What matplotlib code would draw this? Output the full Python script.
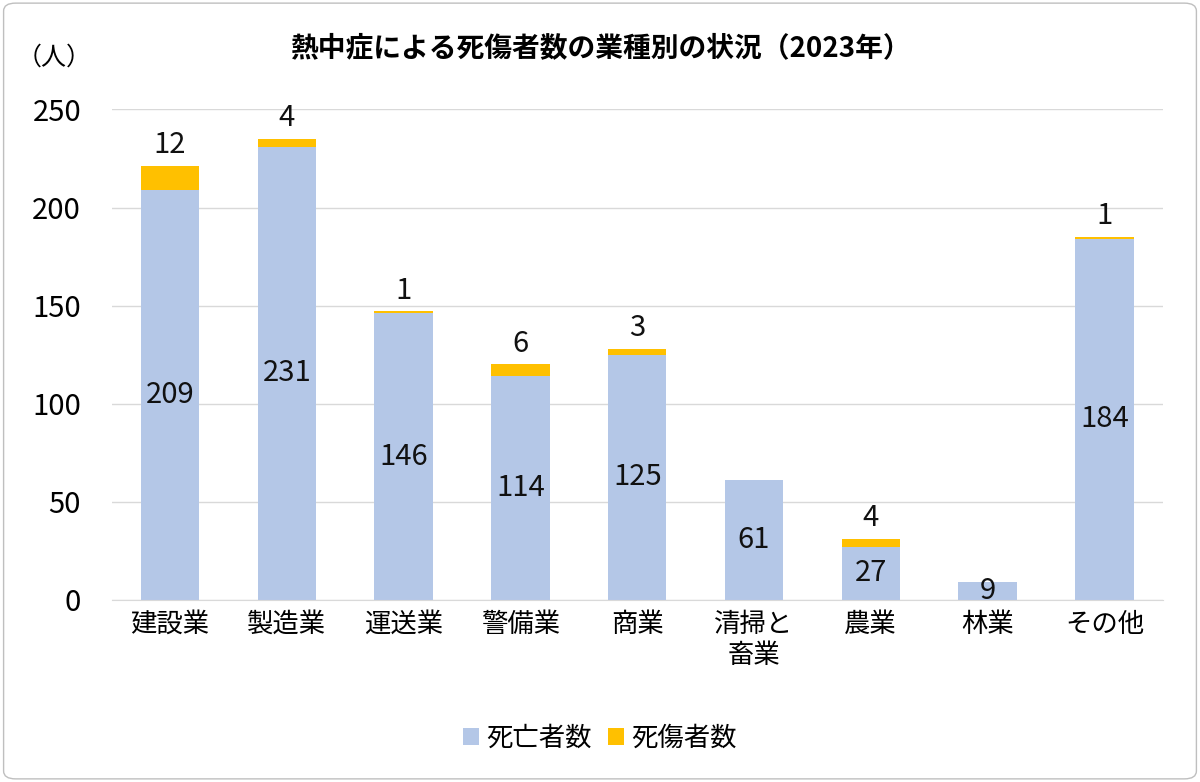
import matplotlib.pyplot as plt
import numpy as np
from matplotlib.patches import FancyBboxPatch

plt.rcParams['font.family'] = 'Noto Sans CJK JP'

categories = ['建設業', '製造業', '運送業', '警備業', '商業', '清掃と\n畜業', '農業', '林業', 'その他']
deaths = [209, 231, 146, 114, 125, 61, 27, 9, 184]
casualties = [12, 4, 1, 6, 3, 0, 4, 0, 1]

blue = '#b4c7e7'
yellow = '#ffc000'

fig = plt.figure(figsize=(12, 7.82), dpi=100)
ax = fig.add_axes([0.093, 0.233, 0.876, 0.627])

x = np.arange(len(categories))
ax.bar(x, deaths, width=0.5, color=blue, label='死亡者数', zorder=2)
ax.bar(x, casualties, width=0.5, bottom=deaths, color=yellow, label='死傷者数', zorder=2)

for i, (d, c) in enumerate(zip(deaths, casualties)):
    ax.text(i, d / 2, str(d), ha='center', va='center', fontsize=21, color='#111111', zorder=3)
    if c > 0:
        ax.text(i, d + c + 3, str(c), ha='center', va='bottom', fontsize=21, color='#111111', zorder=3)

ax.set_ylim(0, 250)
ax.set_xlim(-0.5, len(categories) - 0.5)
ax.set_yticks(range(0, 251, 50))
ax.set_xticks(x)
ax.set_xticklabels(categories, fontsize=19, linespacing=1.2)
ax.tick_params(axis='y', labelsize=21, length=0, pad=22)
ax.tick_params(axis='x', length=0, pad=8)
ax.grid(axis='y', color='#d9d9d9', linewidth=1, zorder=0)
for s in ['top', 'right', 'left']:
    ax.spines[s].set_visible(False)
ax.spines['bottom'].set_color('#d9d9d9')

fig.text(0.5, 0.938, '熱中症による死傷者数の業種別の状況（2023年）', ha='center', va='center',
         fontsize=20, fontweight='bold')
fig.text(0.045, 0.926, '（人）', ha='center', va='center', fontsize=18)

fig.legend(loc='center', bbox_to_anchor=(0.5, 0.056), ncol=2, frameon=False, fontsize=19,
           handlelength=0.6, handleheight=0.6, columnspacing=0.6, handletextpad=0.3)

fig.patches.append(FancyBboxPatch((0.003, 0.004), 0.994, 0.992, boxstyle='round,pad=0,rounding_size=0.01',
                                  transform=fig.transFigure, fill=False, edgecolor='#bfbfbf', linewidth=1))

fig.savefig('out.png', dpi=100)
